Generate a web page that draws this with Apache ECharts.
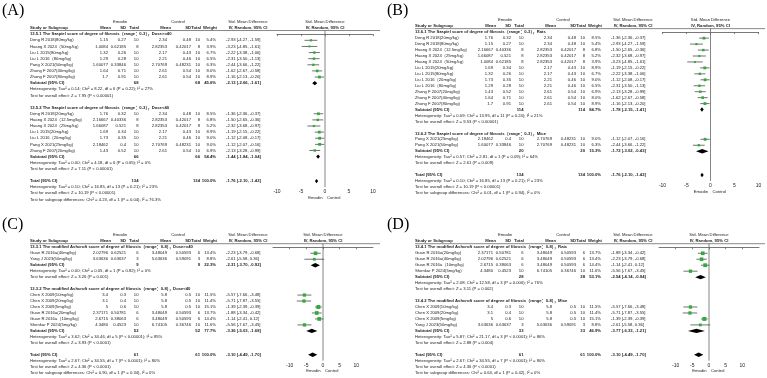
<!DOCTYPE html>
<html>
<head>
<meta charset="utf-8">
<script src="https://cdn.jsdelivr.net/npm/echarts@6/dist/echarts.min.js"></script>
<style>
html, body { margin: 0; padding: 0; background: #fff; }
#main { width: 767px; height: 378px; }
</style>
</head>
<body>
<div id="main"></div>
<script>
// rows: study, emodin mean, sd, n, control mean, sd, n, weight %, smd, lo, hi
// subtotals: emodin n, control n, weight %, smd, lo, hi

// (A) Szapiel score by dose
const titleA1 = '13.5.1 The Szapiel score of degree of fibrosis（range：0-3），Dose>=40';
const rowsA1 = [
  ['Deng R 2018(80mg/kg)', '1.15', '0.27', '10', '2.34', '0.48', '10', 5.4, -2.93, -4.27, -1.59],
  ['Huang X 2024（50mg/kg）', '1.0084', '0.62185', '8', '2.82353', '0.42017', '8', 3.9, -3.23, -4.85, -1.61],
  ['Liu L 2015(80mg/kg)', '1.32', '0.26', '10', '2.17', '0.43', '10', 6.7, -2.22, -3.38, -1.06],
  ['Liu L 2016（80mg/kg）', '1.29', '0.28', '10', '2.21', '0.46', '10', 6.5, -2.31, -3.50, -1.13],
  ['Pang X 2021(50mg/kg)', '1.60077', '0.33846', '10', '2.70769', '0.48231', '10', 6.3, -2.44, -3.66, -1.22],
  ['Zhong F 2007(40mg/kg)', '1.64', '0.71', '10', '2.61', '0.54', '10', 8.0, -1.62, -2.67, -0.58],
  ['Zhong F 2007(80mg/kg)', '1.7', '0.91', '10', '2.61', '0.54', '10', 8.9, -1.16, -2.13, -0.20]
];
const subA1 = ['68', '68', 45.6, -2.13, -2.66, -1.61];
const notesA1 = ['Heterogeneity: Tau² = 0.14; Chi² = 8.22, df = 6 (P = 0.22); I² = 27%',
  'Test for overall effect: Z = 7.95 (P < 0.00001)'];

const titleA2 = '13.5.2 The Szapiel score of degree of fibrosis（range：0-3），Dose<40';
const rowsA2 = [
  ['Deng R 2018(20mg/kg)', '1.76', '0.32', '10', '2.34', '0.48', '10', 8.5, -1.36, -2.36, -0.37],
  ['Huang X 2024（12.5mg/kg）', '2.16667', '0.40336', '8', '2.82353', '0.42017', '8', 6.8, -1.50, -2.65, -0.36],
  ['Huang X 2024（25mg/kg）', '1.66087', '0.521', '8', '2.82353', '0.42017', '8', 5.2, -2.32, -3.68, -0.97],
  ['Liu L 2015(20mg/kg)', '1.69', '0.34', '10', '2.17', '0.43', '10', 8.9, -1.19, -2.15, -0.22],
  ['Liu L 2016（20mg/kg）', '1.73', '0.35', '10', '2.21', '0.46', '10', 9.0, -1.12, -2.08, -0.17],
  ['Pang X 2021(25mg/kg)', '2.18462', '0.4', '10', '2.70769', '0.48231', '10', 9.0, -1.12, -2.07, -0.16],
  ['Zhong F 2007(20mg/kg)', '1.43', '0.52', '10', '2.61', '0.54', '10', 6.9, -2.13, -3.28, -0.99]
];
const subA2 = ['66', '66', 54.4, -1.44, -1.84, -1.04];
const notesA2 = ['Heterogeneity: Tau² = 0.00; Chi² = 4.18, df = 6 (P = 0.65); I² = 0%',
  'Test for overall effect: Z = 7.11 (P < 0.00001)'];

const totA = ['134', '134', 100.0, -1.76, -2.10, -1.42];
const totNotesA = ['Heterogeneity: Tau² = 0.10; Chi² = 16.85, df = 13 (P = 0.21); I² = 23%',
  'Test for overall effect: Z = 10.19 (P < 0.00001)',
  'Test for subgroup differences: Chi² = 4.23, df = 1 (P = 0.04), I² = 76.3%'];

// (B) Szapiel score by species
const titleB1 = '13.6.1 The Szapiel score of degree of fibrosis（range：0-3），Rats';
const rowsB1 = [
  ['Deng R 2018(20mg/kg)', '1.76', '0.32', '10', '2.34', '0.48', '10', 8.5, -1.36, -2.36, -0.37],
  ['Deng R 2018(80mg/kg)', '1.15', '0.27', '10', '2.34', '0.48', '10', 5.4, -2.93, -4.27, -1.59],
  ['Huang X 2024（12.5mg/kg）', '2.16667', '0.40336', '8', '2.82353', '0.42017', '8', 6.8, -1.50, -2.65, -0.36],
  ['Huang X 2024（25mg/kg）', '1.66087', '0.521', '8', '2.82353', '0.42017', '8', 5.2, -2.32, -3.68, -0.97],
  ['Huang X 2024（50mg/kg）', '1.0084', '0.62185', '8', '2.82353', '0.42017', '8', 3.9, -3.23, -4.85, -1.61],
  ['Liu L 2015(20mg/kg)', '1.69', '0.34', '10', '2.17', '0.43', '10', 8.9, -1.19, -2.15, -0.22],
  ['Liu L 2015(80mg/kg)', '1.32', '0.26', '10', '2.17', '0.43', '10', 6.7, -2.22, -3.38, -1.06],
  ['Liu L 2016（20mg/kg）', '1.73', '0.35', '10', '2.21', '0.46', '10', 9.0, -1.12, -2.08, -0.17],
  ['Liu L 2016（80mg/kg）', '1.29', '0.28', '10', '2.21', '0.46', '10', 6.5, -2.31, -3.50, -1.13],
  ['Zhong F 2007(20mg/kg)', '1.43', '0.52', '10', '2.61', '0.54', '10', 6.9, -2.13, -3.28, -0.99],
  ['Zhong F 2007(40mg/kg)', '1.64', '0.71', '10', '2.61', '0.54', '10', 8.0, -1.62, -2.67, -0.58],
  ['Zhong F 2007(80mg/kg)', '1.7', '0.91', '10', '2.61', '0.54', '10', 8.9, -1.16, -2.13, -0.20]
];
const subB1 = ['114', '114', 84.7, -1.78, -2.15, -1.41];
const notesB1 = ['Heterogeneity: Tau² = 0.09; Chi² = 13.95, df = 11 (P = 0.24); I² = 21%',
  'Test for overall effect: Z = 9.53 (P < 0.00001)'];

const titleB2 = '13.6.2 The Szapiel score of degree of fibrosis（range：0-3），Mice';
const rowsB2 = [
  ['Pang X 2021(25mg/kg)', '2.18462', '0.4', '10', '2.70769', '0.48231', '10', 9.0, -1.12, -2.07, -0.16],
  ['Pang X 2021(50mg/kg)', '1.60077', '0.33846', '10', '2.70769', '0.48231', '10', 6.3, -2.44, -3.66, -1.22]
];
const subB2 = ['20', '20', 15.3, -1.72, -3.02, -0.43];
const notesB2 = ['Heterogeneity: Tau² = 0.57; Chi² = 2.81, df = 1 (P = 0.09); I² = 64%',
  'Test for overall effect: Z = 2.61 (P = 0.009)'];

const totB = ['134', '134', 100.0, -1.76, -2.10, -1.42];
const totNotesB = ['Heterogeneity: Tau² = 0.10; Chi² = 16.85, df = 13 (P = 0.21); I² = 23%',
  'Test for overall effect: Z = 10.19 (P < 0.00001)',
  'Test for subgroup differences: Chi² = 0.01, df = 1 (P = 0.94), I² = 0%'];

// (C) modified Ashcroft score by dose
const titleC1 = '13.3.1 The modified Ashcroft score of degree of fibrosis（range：0-8），Dose>=40';
const rowsC1 = [
  ['Guan R 2016a(40mg/kg)', '2.02796', '0.62521', '6', '3.48049', '0.50593', '6', 13.4, -2.23, -3.79, -0.68],
  ['Yang J 2023(50mg/kg)', '3.63636', '0.63637', '3', '5.63636', '0.59091', '3', 8.8, -2.61, -5.58, 0.36]
];
const subC1 = ['9', '9', 22.3, -2.31, -3.70, -0.92];
const notesC1 = ['Heterogeneity: Tau² = 0.00; Chi² = 0.05, df = 1 (P = 0.82); I² = 0%',
  'Test for overall effect: Z = 3.26 (P = 0.001)'];

const titleC2 = '13.3.2 The modified Ashcroft score of degree of fibrosis（range：0-8），Dose<40';
const rowsC2 = [
  ['Chen X 2009(10mg/kg)', '3.4', '0.3', '10', '5.8', '0.5', '10', 11.5, -5.57, -7.66, -3.48],
  ['Chen X 2009(20mg/kg)', '3.1', '0.4', '10', '5.8', '0.5', '10', 11.4, -5.71, -7.87, -3.55],
  ['Chen X 2009(5mg/kg)', '5', '0.6', '10', '5.8', '0.5', '10', 15.1, -1.39, -2.39, -0.39],
  ['Guan R 2016a(20mg/kg)', '2.37171', '0.50781', '6', '3.48049', '0.50593', '6', 13.7, -1.88, -3.34, -0.42],
  ['Guan R 2016a（10mg/kg）', '2.6715', '0.38063', '6', '3.48049', '0.50593', '6', 14.4, -1.14, -2.41, 0.12],
  ['Shenkar P 2024(5mg/kg)', '4.3480', '0.4523', '10', '6.74105', '0.36746', '10', 11.6, -5.56, -7.67, -3.45]
];
const subC2 = ['52', '52', 77.7, -3.36, -5.03, -1.68];
const notesC2 = ['Heterogeneity: Tau² = 3.62; Chi² = 34.46, df = 5 (P < 0.00001); I² = 85%',
  'Test for overall effect: Z = 3.93 (P < 0.0001)'];

const totC = ['61', '61', 100.0, -3.10, -4.49, -1.70];
const totNotesC = ['Heterogeneity: Tau² = 2.67; Chi² = 34.55, df = 7 (P < 0.0001); I² = 80%',
  'Test for overall effect: Z = 4.36 (P < 0.0001)',
  'Test for subgroup differences: Chi² = 0.90, df = 1 (P = 0.34), I² = 0%'];

// (D) modified Ashcroft score by species
const titleD1 = '13.4.1 The modified Ashcroft score of degree of fibrosis（range：0-8），Rats';
const rowsD1 = [
  ['Guan R 2016a(20mg/kg)', '2.37171', '0.50781', '6', '3.48049', '0.50593', '6', 13.7, -1.88, -3.34, -0.42],
  ['Guan R 2016a(40mg/kg)', '2.02796', '0.62521', '6', '3.48049', '0.50593', '6', 13.4, -2.23, -3.79, -0.68],
  ['Guan R 2016a（10mg/kg）', '2.6715', '0.38063', '6', '3.48049', '0.50593', '6', 14.4, -1.14, -2.41, 0.12],
  ['Shenkar P 2024(5mg/kg)', '4.3480', '0.4523', '10', '6.74105', '0.36746', '10', 11.6, -5.56, -7.67, -3.45]
];
const subD1 = ['28', '28', 53.1, -2.54, -4.14, -0.94];
const notesD1 = ['Heterogeneity: Tau² = 2.08; Chi² = 12.58, df = 3 (P = 0.006); I² = 76%',
  'Test for overall effect: Z = 3.11 (P = 0.002)'];

const titleD2 = '13.4.2 The modified Ashcroft score of degree of fibrosis（range：0-8），Mice';
const rowsD2 = [
  ['Chen X 2009(10mg/kg)', '3.4', '0.3', '10', '5.8', '0.5', '10', 11.5, -5.57, -7.66, -3.48],
  ['Chen X 2009(20mg/kg)', '3.1', '0.4', '10', '5.8', '0.5', '10', 11.4, -5.71, -7.87, -3.55],
  ['Chen X 2009(5mg/kg)', '5', '0.6', '10', '5.8', '0.5', '10', 15.1, -1.39, -2.39, -0.39],
  ['Yang J 2023(50mg/kg)', '3.63636', '0.63637', '3', '5.63636', '0.59091', '3', 8.8, -2.61, -5.58, 0.36]
];
const subD2 = ['33', '33', 46.9, -3.77, -6.33, -1.21];
const notesD2 = ['Heterogeneity: Tau² = 5.87; Chi² = 21.17, df = 3 (P < 0.0001); I² = 86%',
  'Test for overall effect: Z = 2.88 (P = 0.004)'];

const totD = ['61', '61', 100.0, -3.10, -4.49, -1.70];
const totNotesD = ['Heterogeneity: Tau² = 2.67; Chi² = 34.55, df = 7 (P < 0.0001); I² = 80%',
  'Test for overall effect: Z = 4.36 (P < 0.0001)',
  'Test for subgroup differences: Chi² = 0.64, df = 1 (P = 0.42), I² = 0%'];

const tickVals = [-10, -5, 0, 5, 10];

// layout of the four panels
const panels = [
  { label: '(A)', ox: 0, oy: 3, idx0: 34.2, s: 6.12, xMin: -10, xMax: 10, plotL: 277, plotR: 373,
    groups: [[titleA1, rowsA1, subA1, notesA1], [titleA2, rowsA2, subA2, notesA2]], total: totA, totalNotes: totNotesA },
  { label: '(B)', ox: 385, oy: 3, idx0: 32.2, s: 5.95, xMin: -10, xMax: 10, plotL: 662.5, plotR: 758.5,
    groups: [[titleB1, rowsB1, subB1, notesB1], [titleB2, rowsB2, subB2, notesB2]], total: totB, totalNotes: totNotesB },
  { label: '(C)', ox: 0, oy: 217, idx0: 247.3, s: 5.97, xMin: -15, xMax: 15, plotL: 273, plotR: 373,
    groups: [[titleC1, rowsC1, subC1, notesC1], [titleC2, rowsC2, subC2, notesC2]], total: totC, totalNotes: totNotesC },
  { label: '(D)', ox: 385, oy: 217, idx0: 247.3, s: 5.97, xMin: -15, xMax: 15, plotL: 659, plotR: 759,
    groups: [[titleD1, rowsD1, subD1, notesD1], [titleD2, rowsD2, subD2, notesD2]], total: totD, totalNotes: totNotesD }
];

const FONT = '"Liberation Sans", Arial, "Noto Sans CJK SC", sans-serif';
const FS = 4.2;
const INK = '#222';

function ci(v, lo, hi) {
  return v.toFixed(2) + ' [' + lo.toFixed(2) + ', ' + hi.toFixed(2) + ']';
}

function buildLines(P) {
  let lines = [{ kind: 'head', idx: -0.6 }];
  let i = 0;
  P.groups.forEach(g => {
    lines.push({ kind: 'group', idx: i++, text: g[0] });
    g[1].forEach(r => lines.push({ kind: 'study', idx: i++, r: r }));
    lines.push({ kind: 'sub', idx: i++, r: g[2], label: 'Subtotal (95% CI)' });
    g[3].forEach(t => lines.push({ kind: 'note', idx: i++, text: t }));
    i++;
  });
  P.totalIdx = i;
  lines.push({ kind: 'sub', idx: i++, r: P.total, label: 'Total (95% CI)' });
  P.totalNotes.forEach(t => lines.push({ kind: 'note', idx: i++, text: t }));
  return lines;
}

function makeRender(P, lines) {
  return function (params, api) {
    const ln = lines[params.dataIndex];
    const ox = P.ox;
    const y = api.coord([0, ln.idx])[1];
    const kids = [];
    const T = (x, yy, str, align, bold) => kids.push({
      type: 'text',
      style: { x: x, y: yy, text: str, fill: INK, font: (bold ? 'bold ' : '') + FS + 'px ' + FONT,
        align: align || 'left', verticalAlign: 'middle' }
    });
    if (ln.kind === 'head') {
      const top = api.coord([0, -0.6])[1];
      const bot = api.coord([0, P.totalIdx + 1])[1];
      const zx = api.coord([0, 0])[0];
      const y1 = top - 8.4, y2 = top - 2.7;
      kids.push({ type: 'line', shape: { x1: ox + 30, y1: top, x2: ox + 380, y2: top },
        style: { stroke: '#555', lineWidth: 0.7 } });
      kids.push({ type: 'line', shape: { x1: zx, y1: top, x2: zx, y2: bot },
        style: { stroke: '#666', lineWidth: 0.8 } });
      T(ox + 120, y1, 'Emodin', 'center');
      T(ox + 178, y1, 'Control', 'center');
      T(ox + 248, y1, 'Std. Mean Difference', 'center');
      T(zx, y1, 'Std. Mean Difference', 'center');
      T(ox + 30, y2, 'Study or Subgroup', 'left', true);
      T(ox + 111, y2, 'Mean', 'right', true);
      T(ox + 126, y2, 'SD', 'right', true);
      T(ox + 139, y2, 'Total', 'right', true);
      T(ox + 171, y2, 'Mean', 'right', true);
      T(ox + 191, y2, 'SD', 'right', true);
      T(ox + 201, y2, 'Total', 'right', true);
      T(ox + 217, y2, 'Weight', 'right', true);
      T(ox + 248, y2, 'IV, Random, 95% CI', 'center', true);
      T(zx, y2, 'IV, Random, 95% CI', 'center', true);
      T(zx - 2.5, bot + 10.5, 'Emodin', 'right');
      T(zx + 2, bot + 10.5, 'Control', 'left');
    } else if (ln.kind === 'group') {
      T(ox + 30, y, ln.text, 'left', true);
    } else if (ln.kind === 'note') {
      T(ox + 30, y, ln.text, 'left');
    } else if (ln.kind === 'study') {
      const r = ln.r;
      T(ox + 30, y, r[0]);
      T(ox + 108, y, r[1], 'right');
      T(ox + 126, y, r[2], 'right');
      T(ox + 138.5, y, r[3], 'right');
      T(ox + 167, y, r[4], 'right');
      T(ox + 191, y, r[5], 'right');
      T(ox + 200, y, r[6], 'right');
      T(ox + 216, y, r[7].toFixed(1) + '%', 'right');
      T(ox + 226, y, ci(r[8], r[9], r[10]));
      const a = api.coord([r[9], ln.idx]), b = api.coord([r[10], ln.idx]), c = api.coord([r[8], ln.idx]);
      kids.push({ type: 'line', shape: { x1: a[0], y1: y, x2: b[0], y2: y },
        style: { stroke: '#2f3b2f', lineWidth: 0.7 } });
      const h = 1.2 + r[7] * 0.18;
      kids.push({ type: 'rect', shape: { x: c[0] - h / 2, y: y - h / 2, width: h, height: h },
        style: { fill: '#34a83c' } });
    } else if (ln.kind === 'sub') {
      const r = ln.r;
      T(ox + 30, y, ln.label, 'left', true);
      T(ox + 138.5, y, r[0], 'right', true);
      T(ox + 200, y, r[1], 'right', true);
      T(ox + 216, y, r[2].toFixed(1) + '%', 'right', true);
      T(ox + 226, y, ci(r[3], r[4], r[5]), 'left', true);
      const lo = api.coord([r[4], ln.idx]), hi = api.coord([r[5], ln.idx]), c = api.coord([r[3], ln.idx]);
      kids.push({ type: 'polygon', shape: { points: [[lo[0], y], [c[0], y - 2.2], [hi[0], y], [c[0], y + 2.2]] },
        style: { fill: '#000' } });
    }
    return { type: 'group', children: kids };
  };
}

const grids = [], xAxes = [], yAxes = [], series = [], graphics = [];
panels.forEach((P, k) => {
  const lines = buildLines(P);
  const yMin = -0.6, yMax = P.totalIdx + 1;
  grids.push({ left: P.plotL, width: P.plotR - P.plotL, top: P.idx0 + yMin * P.s, height: (yMax - yMin) * P.s });
  xAxes.push({
    gridIndex: k, type: 'value', min: P.xMin, max: P.xMax, interval: 5,
    axisLine: { lineStyle: { color: '#555', width: 0.8 } },
    axisTick: { length: 2, lineStyle: { color: '#555', width: 0.7 }, customValues: tickVals },
    axisLabel: { fontSize: 5, color: INK, margin: 2, fontFamily: FONT, customValues: tickVals },
    splitLine: { show: false }
  });
  yAxes.push({ gridIndex: k, type: 'value', inverse: true, min: yMin, max: yMax, show: false });
  series.push({
    type: 'custom', xAxisIndex: k, yAxisIndex: k, clip: false, silent: true, animation: false,
    data: lines.map(l => [0, l.idx]),
    encode: { x: 0, y: 1 },
    renderItem: makeRender(P, lines)
  });
  graphics.push({ type: 'text', left: P.ox + 2, top: P.oy,
    style: { text: P.label, font: '16px "Liberation Serif", "Times New Roman", serif', fill: '#000' } });
});

const chart = echarts.init(document.getElementById('main'));
chart.setOption({
  animation: false,
  backgroundColor: '#fff',
  grid: grids,
  xAxis: xAxes,
  yAxis: yAxes,
  series: series,
  graphic: graphics
});
</script>
</body>
</html>
